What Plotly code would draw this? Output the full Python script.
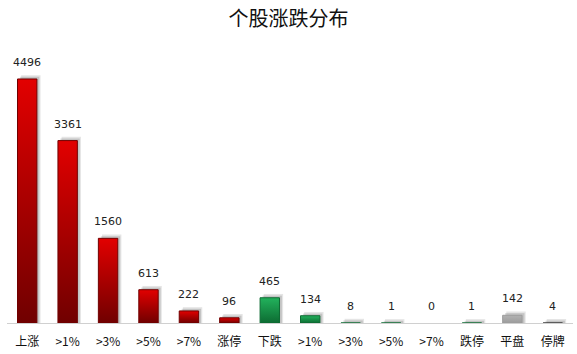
import plotly.graph_objects as go

categories = ["上涨", ">1%", ">3%", ">5%", ">7%", "涨停", "下跌", ">1%", ">3%", ">5%", ">7%", "跌停", "平盘", "停牌"]
values = [4496, 3361, 1560, 613, 222, 96, 465, 134, 8, 1, 0, 1, 142, 4]
groups = ["up"] * 6 + ["down"] * 6 + ["flat", "halt"]

palette = {
    "up": ("#700000", "#e20000"),
    "down": ("#0d6b32", "#22b25c"),
    "flat": ("#9c9c9c", "#b2b2b2"),
    "halt": ("#3a3a3a", "#4a4a4a"),
}

half = 0.24
fig = go.Figure()
xs = list(range(len(categories)))

# soft shadows (two layers for a blurred look)
for off, alpha, grow in [(0.09, 0.10, 70), (0.06, 0.14, 40)]:
    for i, (v, g) in enumerate(zip(values, groups)):
        if v <= 0:
            continue
        fig.add_trace(go.Bar(x=[i + off], y=[v + grow], base=0, width=2 * half,
                             marker=dict(color=f"rgba(0,0,0,{alpha})", line=dict(width=0)),
                             hoverinfo="skip", showlegend=False))

for i, (v, g) in enumerate(zip(values, groups)):
    if v <= 0:
        continue
    lo, hi = palette[g]
    fig.add_trace(go.Scatter(
        x=[i - half, i + half, i + half, i - half, i - half],
        y=[0, 0, v, v, 0],
        mode="lines", fill="toself",
        line=dict(width=1, color=lo),
        fillgradient=dict(type="vertical", colorscale=[[0, lo], [1, hi]]),
        hoverinfo="skip", showlegend=False,
    ))

for i, v in enumerate(values):
    fig.add_annotation(x=i, y=v, text=str(v), showarrow=False, yanchor="bottom",
                       yshift=8, font=dict(size=11, color="#222", family="DejaVu Sans"))

fig.update_layout(
    barmode="overlay",
    width=577, height=354,
    margin=dict(l=7, r=4, t=50, b=31),
    paper_bgcolor="white", plot_bgcolor="white",
    title=dict(text="个股涨跌分布", x=0.5, xanchor="center", y=0.945, yanchor="middle",
               font=dict(size=20, color="#111", family="Noto Sans CJK SC")),
    xaxis=dict(range=[-0.5, len(categories) - 0.5], tickmode="array", tickvals=xs,
               ticktext=categories, showgrid=False, zeroline=False, showline=True,
               linecolor="#d0d0d0", linewidth=1, ticks="outside", ticklen=8,
               tickcolor="rgba(0,0,0,0)",
               tickfont=dict(size=12, color="#111", family="Noto Sans CJK SC")),
    yaxis=dict(range=[0, 5030], visible=False, showgrid=False, zeroline=False),
)

fig.write_html("out.html")
